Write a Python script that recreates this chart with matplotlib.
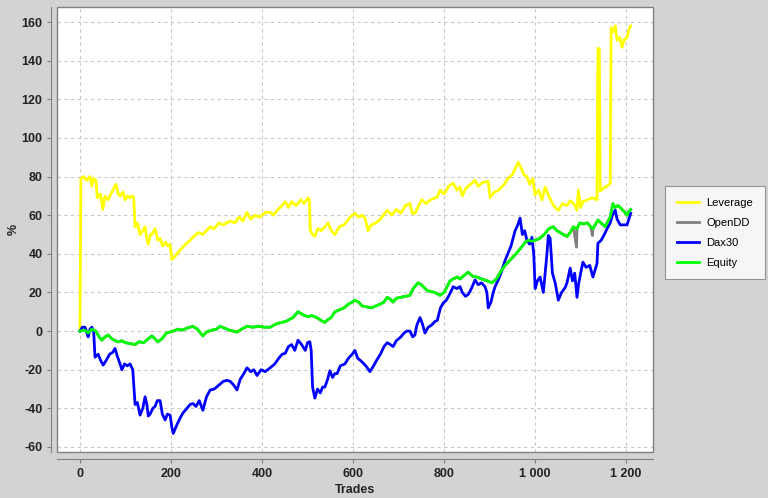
import matplotlib
matplotlib.use("Agg")
import matplotlib.pyplot as plt
from matplotlib.ticker import FuncFormatter
from matplotlib.patches import Rectangle

# ---------------- data ----------------
lev_t = [0, 2, 8, 15, 22, 26, 30, 35, 38, 45, 50, 55, 62, 70, 79, 84, 88, 95, 99, 105, 110, 116, 118,
         121, 126, 132, 138, 143, 147, 150, 155, 158, 165, 168, 171, 176, 182, 188, 193, 198, 202, 210,
         220, 232, 242, 250, 260, 270, 286, 295, 305, 315, 330, 340, 350, 358, 367, 375, 385, 395, 408,
         418, 425, 435, 444, 451, 458, 465, 475, 485, 492, 501, 504, 506, 511, 516, 522, 530, 538, 545,
         552, 560, 570, 580, 590, 598, 604, 612, 620, 626, 630, 633, 640, 650, 660, 675, 685, 695, 705,
         715, 725, 730, 736, 742, 751, 760, 770, 785, 791, 800, 810, 820, 828, 835, 840, 848, 858, 868,
         875, 885, 897, 901, 910, 920, 934, 940, 950, 958, 963, 970, 975, 982, 988, 995, 1000, 1008,
         1015, 1022, 1030, 1038, 1044, 1051, 1060, 1070, 1077, 1085, 1092, 1095, 1100, 1105, 1115, 1125,
         1136, 1138, 1141, 1143, 1150, 1158, 1165, 1167, 1172, 1176, 1180, 1186, 1191, 1196, 1202, 1206,
         1210]
lev_v = [0, 79, 80, 78, 80, 75, 79, 78, 69, 71, 63, 70, 68, 72, 76, 71, 70, 72, 68, 70, 69, 70, 69,
         54, 56, 50, 52, 54, 48, 45, 50, 50, 53, 50, 47, 48, 44, 46, 44, 45, 37, 39,
         42, 45, 47, 49, 51, 50, 54, 53, 56, 55, 57, 56, 59, 57, 61.5, 58, 60, 59, 61.5,
         61.5, 60, 63, 65, 67, 64, 67, 65, 68, 66, 69, 68, 52, 50, 49, 53, 52, 54, 56,
         52, 50, 54, 55, 58, 60, 61, 59, 60, 58.5, 55, 52, 55, 56, 58, 62.6, 60, 63, 61,
         65, 66, 61, 61, 64, 68, 66, 68, 69.5, 73, 71, 75, 76.5, 73, 74.6, 70, 74, 76, 78,
         75, 77, 77.5, 69, 72, 73, 76.5, 79, 81, 85, 87.5, 84, 81, 80, 76, 79, 70.5, 73,
         68, 74.5, 70, 66, 64, 62.6, 66, 65, 67.5, 66, 62.6, 73, 64, 67, 68, 69,
         68, 146.5, 146, 72.5, 74, 75, 76.5, 157, 155, 158, 150.6, 152, 147, 151, 152, 156,
         158]

eq_t = [0, 10, 18, 26, 35, 42, 48, 55, 62, 70, 78, 84, 92, 100, 110, 121, 130, 140, 150, 158, 165,
        171, 180, 190, 198, 205, 215, 225, 235, 248, 258, 265, 270, 278, 290, 300, 308, 318, 328, 345,
        355, 367, 380, 392, 405, 418, 425, 435, 444, 452, 460, 468, 479, 486, 494, 501, 510, 520, 530,
        538, 545, 552, 560, 570, 580, 590, 598, 604, 612, 620, 631, 640, 650, 660, 668, 675, 682, 688,
        695, 705, 715, 725, 732, 743, 750, 763, 770, 780, 791, 800, 813, 820, 829, 835, 845, 853, 862,
        872, 882, 895, 905, 915, 925, 934, 942, 950, 958, 965, 972, 978, 985, 993, 1000, 1010, 1020,
        1030, 1040, 1048, 1055, 1062, 1070, 1077, 1084, 1092, 1098, 1105, 1115, 1122, 1127, 1132, 1138,
        1145, 1154, 1160, 1165, 1171, 1176, 1182, 1187, 1195, 1202, 1206, 1210]
eq_v = [0, 0.5, -1, 1, 0, -3, -4.7, -3, -2, -4, -5, -5.6, -5, -6, -6.5, -7, -5.5, -6, -4, -2.5, -4,
        -5.6, -4, -1, -0.5, 0, 1, 0.5, 1.5, 2.5, 1, -1, -2.5, -0.5, 0.5, 1, 2.5, 1.5, 0.5, -0.5,
        1, 2.5, 2, 2.5, 2, 2, 3, 4, 4.5, 5, 6, 7, 10, 9, 8, 7.5, 8, 7, 5.5,
        4.5, 6, 7, 10, 11, 12, 14, 15, 16, 15, 13, 12.5, 12, 13, 14, 15, 17.5, 16.5, 15,
        17, 17.5, 18, 18.5, 22, 25, 24, 21, 20.5, 20, 18.5, 20, 26, 27, 28, 27, 29, 30.5, 28.5,
        28, 27, 26, 25, 27, 31, 34, 36, 38, 40, 42, 44, 46, 47, 46.5, 47, 48, 50,
        53, 54, 52, 51, 50, 49, 51, 54, 53, 56, 55.5, 56, 54, 53, 55, 57.5,
        56, 54, 57, 59, 66, 64, 65, 64, 62, 60, 62, 63]

# OpenDD follows Equity except for short intratrade drawdown spikes
dd_spike_t = [1091, 1126]
dd_spike_v = [43.5, 49.5]

dax_t = [0, 5, 11, 15, 18, 22, 26, 30, 33, 40, 45, 51, 58, 65, 72, 77, 82, 88, 92, 98, 104, 110, 116,
         121, 126, 132, 138, 143, 147, 150, 154, 160, 165, 170, 176, 181, 187, 192, 198, 202, 205, 212,
         220, 226, 235, 242, 248, 255, 262, 270, 278, 286, 295, 305, 315, 323, 330, 338, 345, 352, 360,
         367, 375, 382, 389, 398, 407, 418, 428, 437, 444, 451, 458, 465, 472, 479, 487, 495, 500, 505,
         508, 511, 516, 522, 528, 533, 538, 544, 549, 555, 560, 565, 572, 582, 590, 598, 604, 610, 615,
         620, 628, 637, 645, 652, 660, 668, 675, 682, 688, 695, 705, 712, 718, 725, 731, 736, 740, 747,
         752, 758, 765, 772, 780, 785, 792, 798, 805, 812, 820, 828, 835, 840, 847, 853, 860, 868, 875,
         882, 890, 894, 897, 903, 908, 912, 918, 925, 934, 940, 947, 956, 962, 967, 972, 977, 982, 988,
         993, 997, 1000, 1005, 1011, 1018, 1022, 1026, 1029, 1033, 1038, 1044, 1048, 1051, 1058, 1066,
         1070, 1077, 1082, 1087, 1092, 1096, 1100, 1105, 1112, 1120, 1127, 1132, 1136, 1138, 1145, 1152,
         1158, 1165, 1170, 1176, 1180, 1187, 1195, 1202, 1206, 1210]
dax_v = [0, 2, 2, -1, -3, 1, 2, 0, -13.5, -12, -15, -17.6, -15, -12, -11, -9, -13, -17, -20, -17, -18, -17, -20,
         -38, -37, -43.5, -40, -34, -38, -44, -43, -40, -39, -36, -36, -43, -46, -43, -43.5, -50, -53, -49,
         -45, -42.5, -40, -38, -37.5, -39, -36, -41, -34, -30.5, -30, -28, -26, -25.5, -26, -28, -30.5, -25, -22,
         -19, -21, -20, -23, -20, -21, -19, -17, -14, -12, -11.5, -8, -7, -10, -4.7, -7, -10, -6, -5.5,
         -10, -29, -34.7, -30, -32, -29, -29, -25, -20.5, -24, -22, -22, -18, -17, -14, -12, -10, -14, -15,
         -16, -18, -21, -18, -15, -12, -8, -6, -7, -8, -5, -3, -1, 0, 0, -3, -2, 3, 7,
         4, -1, 2, 3, 5, 5.5, 12, 14.5, 16, 19, 23, 22, 23, 20, 18, 19, 22, 26.5, 24,
         25, 23, 20, 12, 15, 20, 23, 26, 30, 36.6, 40, 44, 52, 55, 58.5, 50, 52, 47, 45,
         48.6, 40, 22, 26, 28, 20, 30, 40, 49.5, 48, 30, 25, 20, 16, 20, 22.5,
         25, 32.6, 26, 30, 17.5, 25, 30, 35.7, 33, 34, 28, 32, 35, 45.5, 47, 50,
         53, 56, 60, 62.6, 58, 55, 55, 55, 58, 61]

# build OpenDD from Equity plus spikes
dd_pts = sorted(list(zip(eq_t, eq_v)) + list(zip(dd_spike_t, dd_spike_v)))
dd_t = [p[0] for p in dd_pts]
dd_v = [p[1] for p in dd_pts]

x_ticks = [0, 200, 400, 600, 800, 1000, 1200]
y_ticks = [-60, -40, -20, 0, 20, 40, 60, 80, 100, 120, 140, 160]

# ---------------- figure ----------------
plt.rcParams['font.family'] = ['Liberation Sans', 'DejaVu Sans']
plt.rcParams['axes.unicode_minus'] = False
BG = '#d3d3d3'
fig = plt.figure(figsize=(7.68, 4.98), dpi=100, facecolor=BG)
ax = fig.add_axes([57 / 768, 1 - 452 / 498, 596 / 768, 445 / 498])
ax.set_facecolor('white')

lw = 2.0
ax.plot(lev_t, lev_v, color='#ffff00', lw=lw, label='Leverage', zorder=3)
ax.plot(dd_t, dd_v, color='#808080', lw=lw, label='OpenDD', zorder=3)
ax.plot(dax_t, dax_v, color='#0000ff', lw=lw, label='Dax30', zorder=4)
ax.plot(eq_t, eq_v, color='#00ff00', lw=lw, label='Equity', zorder=5)

ax.set_xlim(-50.5, 1259)
ax.set_ylim(-62.6, 167.8)
ax.set_xticks(x_ticks)
ax.set_yticks(y_ticks)
ax.xaxis.set_major_formatter(FuncFormatter(lambda v, p: f"{int(v):,}".replace(',', ' ')))

ax.grid(True, color='#c8c8c8', linestyle=(0, (3, 3)), linewidth=0.8)
ax.set_axisbelow(True)

for s in ['top', 'right']:
    ax.spines[s].set_visible(False)
ax.spines['left'].set_position(('outward', 4))
ax.spines['bottom'].set_position(('outward', 5))
ax.spines['left'].set_color('#808080')
ax.spines['bottom'].set_color('#808080')
ax.add_patch(Rectangle((0, 0), 1, 1, transform=ax.transAxes, fill=False,
                       edgecolor='#808080', lw=1.0, clip_on=False, zorder=6))

ax.tick_params(axis='both', colors='#808080', length=3, width=0.8, labelcolor='#222222',
               labelsize=9)
for lab in ax.get_xticklabels() + ax.get_yticklabels():
    lab.set_fontweight('bold')

ax.set_xlabel('Trades', fontsize=9, fontweight='bold', color='#222222', labelpad=3)
ax.set_ylabel('%', fontsize=9, fontweight='bold', color='#222222', labelpad=1)

leg = fig.legend(loc='upper left', bbox_to_anchor=(665 / 768, 1 - 186 / 498),
                 borderaxespad=0, frameon=True, fancybox=False, fontsize=8, handlelength=2.0,
                 labelspacing=0.9, borderpad=1.05, handletextpad=0.65)
leg.get_frame().set_edgecolor('#808080')
leg.get_frame().set_facecolor('white')
leg.get_frame().set_linewidth(0.8)
for line in leg.get_lines():
    line.set_linewidth(2.0)

fig.savefig('out.png', dpi=100, facecolor=BG)
